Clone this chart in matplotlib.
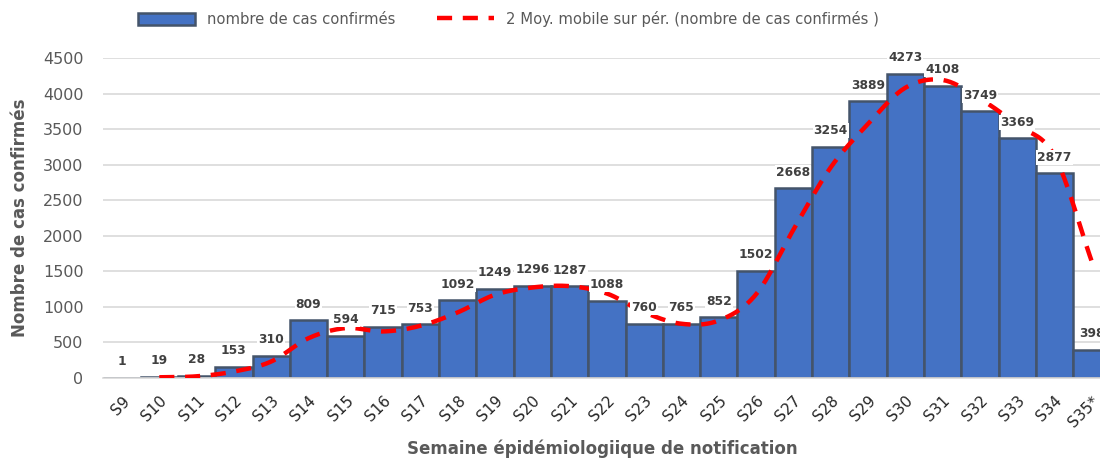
import numpy as np
import matplotlib.pyplot as plt
import matplotlib.transforms as mtransforms
from matplotlib.patches import Patch
from matplotlib.lines import Line2D

# weekly data
weeks = ["S9", "S10", "S11", "S12", "S13", "S14", "S15", "S16", "S17", "S18",
         "S19", "S20", "S21", "S22", "S23", "S24", "S25", "S26", "S27", "S28",
         "S29", "S30", "S31", "S32", "S33", "S34", "S35*"]
cases = [1, 19, 28, 153, 310, 809, 594, 715, 753, 1092, 1249, 1296, 1287, 1088,
         760, 765, 852, 1502, 2668, 3254, 3889, 4273, 4108, 3749, 3369, 2877, 398]
y_ticks = [0, 500, 1000, 1500, 2000, 2500, 3000, 3500, 4000, 4500]

BLUE = "#4472C4"
EDGE = "#44546A"
GRAY = "#595959"


def smooth(xs, ys, n=20):
    # catmull-rom style smoothing, like excel's "smoothed line"
    xs = np.asarray(xs, float)
    ys = np.asarray(ys, float)
    px = np.concatenate([[2 * xs[0] - xs[1]], xs, [2 * xs[-1] - xs[-2]]])
    py = np.concatenate([[2 * ys[0] - ys[1]], ys, [2 * ys[-1] - ys[-2]]])
    ox, oy = [], []
    for i in range(1, len(px) - 2):
        t = np.linspace(0, 1, n, endpoint=False)
        for p, out in ((px, ox), (py, oy)):
            p0, p1, p2, p3 = p[i - 1], p[i], p[i + 1], p[i + 2]
            out.extend(0.5 * ((2 * p1) + (-p0 + p2) * t
                              + (2 * p0 - 5 * p1 + 4 * p2 - p3) * t ** 2
                              + (-p0 + 3 * p1 - 3 * p2 + p3) * t ** 3))
    ox.append(xs[-1])
    oy.append(ys[-1])
    return np.array(ox), np.array(oy)


def main():
    fig = plt.figure(figsize=(11, 4.58), dpi=100)
    ax = fig.add_axes([0.0936, 0.1747, 1 - 0.0936, 0.6987])

    x = np.arange(len(weeks))
    ax.bar(x, cases, width=1.0, color=BLUE, edgecolor=EDGE, linewidth=1.8, zorder=2)

    # 2-period moving average
    ma = [(cases[i - 1] + cases[i]) / 2 for i in range(1, len(cases))]
    sx, sy = smooth(x[1:], ma)
    ax.plot(sx, sy, color="#FF0000", lw=3.2, dashes=(3.4, 2.4), zorder=4,
            solid_capstyle="butt")

    for xi, v in zip(x, cases):
        ax.annotate(str(v), (xi, v), xytext=(0, 7), textcoords="offset points",
                    ha="center", va="bottom", fontsize=8.8, fontweight="bold",
                    color="#404040", zorder=5,
                    bbox=dict(boxstyle="square,pad=0.08", fc="white", ec="none"))

    ax.set_xlim(-0.51, 26.22)
    ax.set_ylim(0, 4500)
    ax.set_yticks(y_ticks)
    ax.set_xticks(x)
    ax.set_xticklabels(weeks, rotation=45, ha="right", rotation_mode="anchor",
                       fontsize=11, color="#262626")
    # nudge the rotated labels a little to the left
    shift = mtransforms.ScaledTranslation(-4 / 100, 0, fig.dpi_scale_trans)
    for lab in ax.get_xticklabels():
        lab.set_transform(lab.get_transform() + shift)
    ax.tick_params(axis="y", length=0, labelsize=11.5, labelcolor=GRAY, pad=14)
    ax.tick_params(axis="x", length=0, pad=11)
    ax.grid(axis="y", color="#D9D9D9", lw=1.2, zorder=0)
    ax.set_axisbelow(True)
    for s in ["top", "right", "left"]:
        ax.spines[s].set_visible(False)
    ax.spines["bottom"].set_color("#D9D9D9")
    ax.spines["bottom"].set_linewidth(1.2)

    ax.set_ylabel("Nombre de cas confirmés", fontsize=12, fontweight="bold",
                  color=GRAY, labelpad=10)
    fig.text(0.548, 0.0, "Semaine épidémiologiique de notification", ha="center",
             va="bottom", fontsize=12, fontweight="bold", color=GRAY)

    handles = [Patch(facecolor=BLUE, edgecolor=EDGE, linewidth=1.8),
               Line2D([0], [0], color="#FF0000", lw=3.2, dashes=(3.4, 2.4))]
    fig.legend(handles, ["nombre de cas confirmés",
                         "2 Moy. mobile sur pér. (nombre de cas confirmés )"],
               loc="upper center", bbox_to_anchor=(0.462, 1.005), ncol=2,
               frameon=False, fontsize=10.6, labelcolor=GRAY, handlelength=3.9,
               handleheight=0.9, columnspacing=2.8)

    fig.savefig("out.png", dpi=100)


if __name__ == "__main__":
    main()
